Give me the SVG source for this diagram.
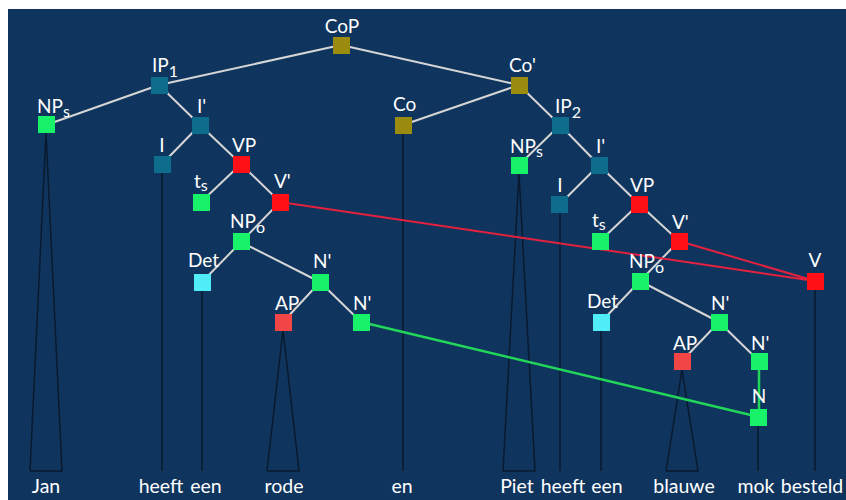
<svg xmlns="http://www.w3.org/2000/svg" width="846" height="500" viewBox="0 0 846 500">
<style>
.e{stroke:#d6d6d6;stroke-width:2;fill:none}
.r{stroke:#e4213e;stroke-width:2;fill:none}
.g{stroke:#22d65a;stroke-width:2.5;fill:none}
.t{stroke:#0a1a2e;stroke-width:1.5;fill:none}
.lab{fill:#ffffff;font-family:Lato,"Open Sans",sans-serif;font-size:19px}
.w{fill:#ffffff;font-family:Lato,"Open Sans",sans-serif;font-size:19.5px;text-anchor:middle}
.m{text-anchor:middle}
.sub{font-size:16px}
.ol{fill:#9b8c10}
.tl{fill:#0e6c8c}
.rd{fill:#ff1016}
.ap{fill:#f24646}
.gr{fill:#18f268}
.cy{fill:#50ecf7}
</style>
<rect x="8" y="9" width="838" height="491" fill="#0f355e"/>
<g id="terminals">
<polyline class="t" points="30,471 46,133 62,471 30,471"/>
<line class="t" x1="162" y1="172" x2="162" y2="471"/>
<line class="t" x1="202" y1="290" x2="202" y2="471"/>
<polyline class="t" points="267,471 283,330 299,471 267,471"/>
<line class="t" x1="403" y1="133" x2="403" y2="471"/>
<polyline class="t" points="503,471 519,173 535,471 503,471"/>
<line class="t" x1="560" y1="212" x2="560" y2="471"/>
<line class="t" x1="601" y1="330" x2="601" y2="471"/>
<polyline class="t" points="666,471 682,370 698,471 666,471"/>
<line class="t" x1="758" y1="425" x2="758" y2="471"/>
<line class="t" x1="815" y1="290" x2="815" y2="471"/>
</g>
<g id="connectors">
<line class="e" x1="341" y1="45" x2="159" y2="85"/>
<line class="e" x1="341" y1="45" x2="519" y2="85"/>
<line class="e" x1="159" y1="85" x2="46" y2="125"/>
<line class="e" x1="159" y1="85" x2="200" y2="125"/>
<line class="e" x1="200" y1="125" x2="162" y2="164"/>
<line class="e" x1="200" y1="125" x2="241" y2="164"/>
<line class="e" x1="241" y1="164" x2="201" y2="202"/>
<line class="e" x1="241" y1="164" x2="280" y2="202"/>
<line class="e" x1="280" y1="202" x2="241" y2="242"/>
<line class="e" x1="241" y1="242" x2="202" y2="282"/>
<line class="e" x1="241" y1="242" x2="320" y2="282"/>
<line class="e" x1="320" y1="282" x2="283" y2="322"/>
<line class="e" x1="320" y1="282" x2="361" y2="322"/>
<line class="e" x1="519" y1="85" x2="403" y2="125"/>
<line class="e" x1="519" y1="85" x2="560" y2="125"/>
<line class="e" x1="560" y1="125" x2="519" y2="165"/>
<line class="e" x1="560" y1="125" x2="599" y2="165"/>
<line class="e" x1="599" y1="165" x2="560" y2="204"/>
<line class="e" x1="599" y1="165" x2="639" y2="204"/>
<line class="e" x1="639" y1="204" x2="600" y2="241"/>
<line class="e" x1="639" y1="204" x2="679" y2="241"/>
<line class="e" x1="679" y1="241" x2="640" y2="281"/>
<line class="e" x1="640" y1="281" x2="601" y2="322"/>
<line class="e" x1="640" y1="281" x2="719" y2="322"/>
<line class="e" x1="719" y1="322" x2="682" y2="361"/>
<line class="e" x1="719" y1="322" x2="759" y2="361"/>
<line class="g" x1="759" y1="361" x2="759" y2="417"/>
<line class="g" x1="361" y1="322" x2="759" y2="417"/>
<line class="r" x1="280" y1="202" x2="815" y2="281"/>
<line class="r" x1="679" y1="241" x2="815" y2="281"/>
</g>
<g id="CoP"><rect class="ol" x="333" y="37" width="17" height="17"/><text class="lab m" x="342" y="33">CoP</text></g>
<g id="IP1"><rect class="tl" x="151" y="77" width="17" height="17"/><text class="lab" x="152" y="72">IP<tspan class="sub" dy="5">1</tspan></text></g>
<g id="NPs1"><rect class="gr" x="38" y="116" width="17" height="17"/><text class="lab" x="37" y="113">NP<tspan class="sub" dy="4">s</tspan></text></g>
<g id="Ibar1"><rect class="tl" x="192" y="117" width="17" height="17"/><text class="lab" x="197" y="113">I'</text></g>
<g id="I1"><rect class="tl" x="154" y="156" width="17" height="17"/><text class="lab m" x="162" y="152">I</text></g>
<g id="VP1"><rect class="rd" x="233" y="156" width="17" height="17"/><text class="lab" x="232" y="152">VP</text></g>
<g id="ts1"><rect class="gr" x="193" y="194" width="17" height="17"/><text class="lab" x="194" y="188">t<tspan class="sub" dy="3">s</tspan></text></g>
<g id="Vbar1"><rect class="rd" x="272" y="194" width="17" height="17"/><text class="lab" x="274" y="188">V'</text></g>
<g id="NPo1"><rect class="gr" x="233" y="233" width="17" height="17"/><text class="lab" x="230" y="228">NP<tspan class="sub" dy="5">o</tspan></text></g>
<g id="Det1"><rect class="cy" x="194" y="274" width="17" height="17"/><text class="lab" x="188" y="267">Det</text></g>
<g id="Nbar1"><rect class="gr" x="312" y="274" width="17" height="17"/><text class="lab" x="313" y="268">N'</text></g>
<g id="AP1"><rect class="ap" x="275" y="314" width="17" height="17"/><text class="lab" x="275" y="310">AP</text></g>
<g id="Nbar1b"><rect class="gr" x="353" y="314" width="17" height="17"/><text class="lab" x="353" y="310">N'</text></g>
<g id="Co"><rect class="ol" x="395" y="117" width="17" height="17"/><text class="lab" x="393" y="111">Co</text></g>
<g id="Cobar"><rect class="ol" x="511" y="77" width="17" height="17"/><text class="lab" x="509" y="72">Co'</text></g>
<g id="IP2"><rect class="tl" x="552" y="117" width="17" height="17"/><text class="lab" x="555" y="113">IP<tspan class="sub" dy="5">2</tspan></text></g>
<g id="NPs2"><rect class="gr" x="511" y="157" width="17" height="17"/><text class="lab" x="510" y="153">NP<tspan class="sub" dy="4">s</tspan></text></g>
<g id="Ibar2"><rect class="tl" x="591" y="157" width="17" height="17"/><text class="lab" x="596" y="153">I'</text></g>
<g id="I2"><rect class="tl" x="551" y="196" width="17" height="17"/><text class="lab m" x="560" y="192">I</text></g>
<g id="VP2"><rect class="rd" x="631" y="196" width="17" height="17"/><text class="lab" x="630" y="192">VP</text></g>
<g id="ts2"><rect class="gr" x="592" y="233" width="17" height="17"/><text class="lab" x="592" y="227">t<tspan class="sub" dy="3">s</tspan></text></g>
<g id="Vbar2"><rect class="rd" x="671" y="233" width="17" height="17"/><text class="lab" x="672" y="229">V'</text></g>
<g id="NPo2"><rect class="gr" x="632" y="273" width="17" height="17"/><text class="lab" x="629" y="268">NP<tspan class="sub" dy="5">o</tspan></text></g>
<g id="Det2"><rect class="cy" x="593" y="314" width="17" height="17"/><text class="lab" x="587" y="308">Det</text></g>
<g id="Nbar2"><rect class="gr" x="711" y="314" width="17" height="17"/><text class="lab" x="711" y="310">N'</text></g>
<g id="AP2"><rect class="ap" x="674" y="353" width="17" height="17"/><text class="lab" x="673" y="350">AP</text></g>
<g id="Nbar2b"><rect class="gr" x="751" y="353" width="17" height="17"/><text class="lab" x="751" y="350">N'</text></g>
<g id="N"><rect class="gr" x="750" y="409" width="17" height="17"/><text class="lab m" x="759" y="403">N</text></g>
<g id="V"><rect class="rd" x="807" y="273" width="17" height="17"/><text class="lab m" x="815" y="267">V</text></g>
<g id="words">
<text class="w" x="46" y="493">Jan</text>
<text class="w" x="161" y="493">heeft</text>
<text class="w" x="206" y="493">een</text>
<text class="w" x="284" y="493">rode</text>
<text class="w" x="402" y="493">en</text>
<text class="w" x="517" y="493">Piet</text>
<text class="w" x="563" y="493">heeft</text>
<text class="w" x="607" y="493">een</text>
<text class="w" x="684" y="493">blauwe</text>
<text class="w" x="756" y="493">mok</text>
<text class="w" x="812" y="493">besteld</text>
</g>
</svg>
